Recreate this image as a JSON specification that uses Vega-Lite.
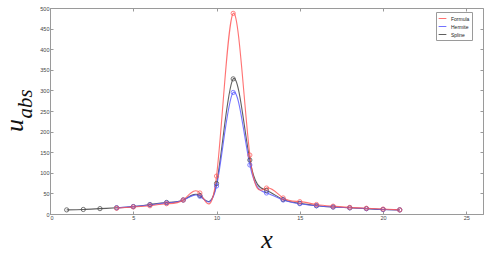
{
  "$schema": "https://vega.github.io/schema/vega-lite/v6.json",
  "width": 433,
  "height": 206,
  "autosize": {"type": "none"},
  "padding": {"left": 50, "top": 8, "right": 7, "bottom": 41},
  "background": "white",
  "config": {
    "view": {"stroke": "#9a9a9a", "strokeWidth": 1},
    "axis": {
      "grid": false,
      "domainColor": "#9a9a9a",
      "tickColor": "#9a9a9a",
      "tickSize": -3,
      "labelFont": "Liberation Sans",
      "labelFontSize": 5.5,
      "labelColor": "#444444",
      "labelPadding": 4
    }
  },
  "datasets": {
    "curves": [
      {"x": 1, "series": "Spline", "u": 10},
      {"x": 2, "series": "Spline", "u": 11},
      {"x": 3, "series": "Spline", "u": 13},
      {"x": 4, "series": "Spline", "u": 15},
      {"x": 5, "series": "Spline", "u": 18},
      {"x": 6, "series": "Spline", "u": 23},
      {"x": 7, "series": "Spline", "u": 28},
      {"x": 8, "series": "Spline", "u": 34},
      {"x": 9, "series": "Spline", "u": 45},
      {"x": 10, "series": "Spline", "u": 74},
      {"x": 11, "series": "Spline", "u": 328},
      {"x": 12, "series": "Spline", "u": 131},
      {"x": 13, "series": "Spline", "u": 57},
      {"x": 14, "series": "Spline", "u": 35},
      {"x": 15, "series": "Spline", "u": 26},
      {"x": 16, "series": "Spline", "u": 20},
      {"x": 17, "series": "Spline", "u": 17},
      {"x": 18, "series": "Spline", "u": 15},
      {"x": 19, "series": "Spline", "u": 13},
      {"x": 20, "series": "Spline", "u": 11},
      {"x": 21, "series": "Spline", "u": 10},
      {"x": 4, "series": "Hermite", "u": 15},
      {"x": 5, "series": "Hermite", "u": 18},
      {"x": 6, "series": "Hermite", "u": 22},
      {"x": 7, "series": "Hermite", "u": 27},
      {"x": 8, "series": "Hermite", "u": 34},
      {"x": 9, "series": "Hermite", "u": 43},
      {"x": 10, "series": "Hermite", "u": 68},
      {"x": 11, "series": "Hermite", "u": 295},
      {"x": 12, "series": "Hermite", "u": 119},
      {"x": 13, "series": "Hermite", "u": 51},
      {"x": 14, "series": "Hermite", "u": 34},
      {"x": 15, "series": "Hermite", "u": 25},
      {"x": 16, "series": "Hermite", "u": 20},
      {"x": 17, "series": "Hermite", "u": 17},
      {"x": 18, "series": "Hermite", "u": 15},
      {"x": 19, "series": "Hermite", "u": 13},
      {"x": 20, "series": "Hermite", "u": 11},
      {"x": 21, "series": "Hermite", "u": 10},
      {"x": 4, "series": "Formula", "u": 14},
      {"x": 5, "series": "Formula", "u": 17},
      {"x": 6, "series": "Formula", "u": 20},
      {"x": 7, "series": "Formula", "u": 25},
      {"x": 8, "series": "Formula", "u": 34},
      {"x": 9, "series": "Formula", "u": 51},
      {"x": 10, "series": "Formula", "u": 92},
      {"x": 11, "series": "Formula", "u": 487},
      {"x": 12, "series": "Formula", "u": 143},
      {"x": 13, "series": "Formula", "u": 63},
      {"x": 14, "series": "Formula", "u": 39},
      {"x": 15, "series": "Formula", "u": 30},
      {"x": 16, "series": "Formula", "u": 23},
      {"x": 17, "series": "Formula", "u": 19},
      {"x": 18, "series": "Formula", "u": 16},
      {"x": 19, "series": "Formula", "u": 14},
      {"x": 20, "series": "Formula", "u": 12},
      {"x": 21, "series": "Formula", "u": 10}
    ],
    "sub": [{"label": "abs", "x": -1.44, "u": 267}]
  },
  "resolve": {"axis": {"x": "independent", "y": "independent"}},
  "layer": [
    {
      "data": {"name": "curves"},
      "mark": {"type": "line", "interpolate": "natural", "strokeWidth": 1.1, "opacity": 0.85},
      "encoding": {
        "x": {"field": "x", "type": "quantitative", "scale": {"domain": [0, 25]},
              "axis": {"orient": "bottom", "values": [0, 5, 10, 15, 20, 25], "labelOverlap": false, "title": "x", "titleFont": "Liberation Serif", "titleFontStyle": "italic", "titleFontWeight": "normal", "titleFontSize": 26, "titleColor": "#111", "titlePadding": 6}},
        "y": {"field": "u", "type": "quantitative", "scale": {"domain": [0, 500]},
              "axis": {"orient": "left", "values": [0, 50, 100, 150, 200, 250, 300, 350, 400, 450, 500], "labelOverlap": false, "title": "u", "titleFont": "Liberation Serif", "titleFontStyle": "italic", "titleFontWeight": "normal", "titleFontSize": 26, "titleColor": "#111", "titleX": -36, "titleY": 117, "titleAngle": 270, "titleAlign": "center", "titleBaseline": "middle"}},
        "color": {"field": "series", "type": "nominal",
                  "scale": {"domain": ["Formula", "Hermite", "Spline"], "range": ["#ff5a5a", "#5a5aff", "#444444"]},
                  "legend": {"title": null, "orient": "none", "legendX": 386, "legendY": 4, "symbolType": "stroke", "symbolStrokeWidth": 1, "symbolSize": 60, "labelFontSize": 5, "labelFont": "Liberation Sans", "labelColor": "#222", "rowPadding": 0, "padding": 2, "strokeColor": "#9a9a9a", "fillColor": "white", "labelLimit": 40}},
        "order": {"field": "series"}
      }
    },
    {
      "data": {"name": "curves"},
      "mark": {"type": "point", "shape": "circle", "filled": false, "size": 18, "strokeWidth": 1, "opacity": 0.75},
      "encoding": {
        "x": {"field": "x", "type": "quantitative",
              "axis": {"orient": "top", "values": [0, 5, 10, 15, 20, 25], "labels": false, "title": null, "domain": false}},
        "y": {"field": "u", "type": "quantitative",
              "axis": {"orient": "right", "values": [0, 50, 100, 150, 200, 250, 300, 350, 400, 450, 500], "labels": false, "title": null, "domain": false}},
        "color": {"field": "series", "type": "nominal", "legend": null}
      }
    },
    {
      "data": {"name": "sub"},
      "mark": {"type": "text", "angle": 270, "font": "Liberation Serif", "fontStyle": "italic", "fontSize": 21, "color": "#111", "align": "center", "baseline": "middle"},
      "encoding": {
        "x": {"field": "x", "type": "quantitative", "axis": null},
        "y": {"field": "u", "type": "quantitative", "axis": null},
        "text": {"field": "label"}
      }
    }
  ]
}
